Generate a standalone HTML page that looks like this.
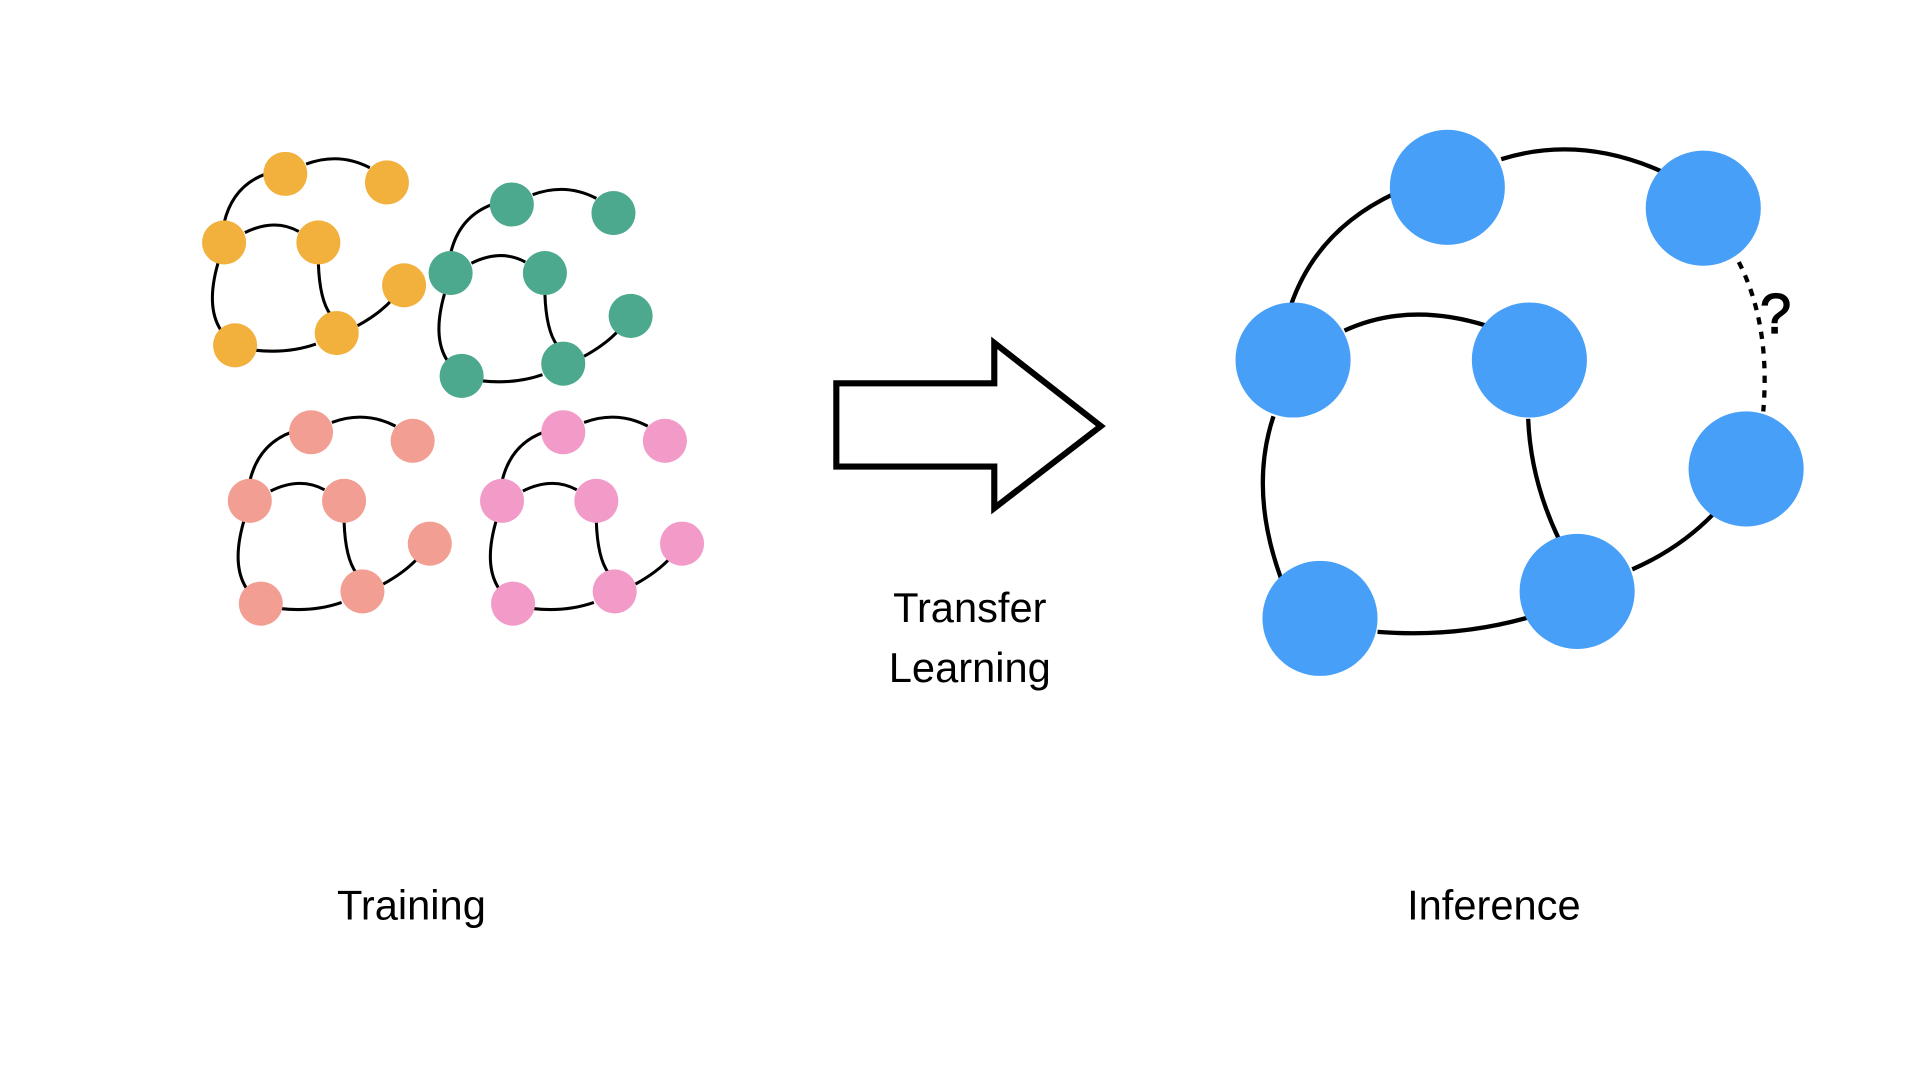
<!DOCTYPE html>
<html><head><style>html,body{margin:0;padding:0;background:#fff;width:1920px;height:1080px;overflow:hidden}</style></head>
<body>
<svg width="1920" height="1080" viewBox="0 0 1568 882" xmlns="http://www.w3.org/2000/svg">
<defs>
<g id="edges" fill="none" stroke="#000" stroke-width="2.5">
<path d="M183,182 Q190,152 217,142"/>
<path d="M250,134 Q277,124 302,137"/>
<path d="M200,190 Q224,178 244,189"/>
<path d="M178,215 Q168,250 180,269"/>
<path d="M260,215 Q261,245 270,257"/>
<path d="M208,286 Q235,289 258,281"/>
<path d="M292,266 Q310,256 320,245"/>
</g>
<g id="nodes">
<circle cx="233" cy="142" r="18"/><circle cx="316" cy="149" r="18"/>
<circle cx="183" cy="198" r="18"/><circle cx="260" cy="198" r="18"/>
<circle cx="330" cy="233" r="18"/><circle cx="192" cy="282" r="18"/>
<circle cx="275" cy="272" r="18"/>
</g>
</defs>
<g><use href="#edges"/><use href="#nodes" fill="#F2B03D"/></g>
<g transform="translate(185,25)"><use href="#edges"/><use href="#nodes" fill="#4DA98D"/></g>
<g transform="translate(21,211)"><use href="#edges"/><use href="#nodes" fill="#F29E92"/></g>
<g transform="translate(227,211)"><use href="#edges"/><use href="#nodes" fill="#F29AC8"/></g>

<polygon points="683,313 812,313 812,280 899,348 812,415 812,381 683,381" fill="#fff" stroke="#000" stroke-width="5"/>

<g fill="none" stroke="#000" stroke-width="3.5">
<path d="M1226,130 Q1290,110 1357,140"/>
<path d="M1054,250 Q1075,188 1139,158"/>
<path d="M1098,270 Q1150,246 1214,266"/>
<path d="M1040,340 Q1020,400 1046,472"/>
<path d="M1248,342 Q1250,392 1273,440"/>
<path d="M1125,516 Q1190,521 1249,504"/>
<path d="M1333,465 Q1372,448 1400,419"/>
<path d="M1420,214 Q1446,265 1440,336" stroke-dasharray="6,6"/>
</g>
<g fill="#489FF7">
<circle cx="1182" cy="153" r="47"/><circle cx="1391" cy="170" r="47"/>
<circle cx="1056" cy="294" r="47"/><circle cx="1249" cy="294" r="47"/>
<circle cx="1426" cy="383" r="47"/><circle cx="1078" cy="505" r="47"/>
<circle cx="1288" cy="483" r="47"/>
</g>
<text x="1450" y="272" font-family="Liberation Sans, sans-serif" font-size="46" text-anchor="middle" stroke="#000" stroke-width="1">?</text>

<g font-family="Liberation Sans, sans-serif" font-size="34" text-anchor="middle" fill="#000">
<text x="792" y="508">Transfer</text>
<text x="792" y="557">Learning</text>
<text x="336" y="751">Training</text>
<text x="1220" y="751">Inference</text>
</g>
</svg>
</body></html>
